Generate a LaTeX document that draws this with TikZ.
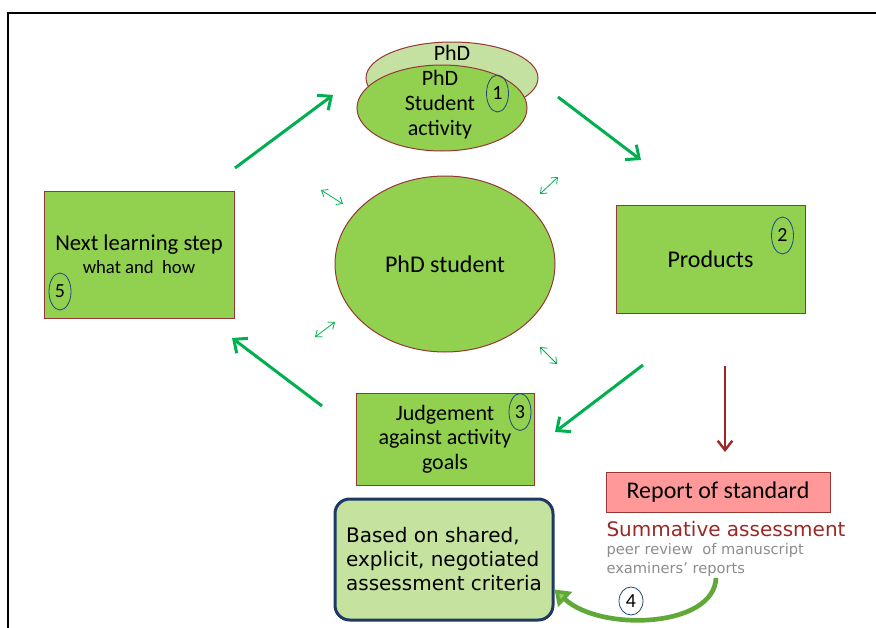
\documentclass[tikz,border=0pt]{standalone}
\usepackage{fontspec}
\setmainfont{Carlito}
\newfontfamily\verdana{DejaVu Sans}
\usetikzlibrary{arrows.meta,shapes.geometric}

\definecolor{boxgreen}{RGB}{146,208,80}
\definecolor{palegreen}{RGB}{196,225,162}
\definecolor{boxborder}{RGB}{149,55,53}
\definecolor{arrowgreen}{RGB}{0,176,80}
\definecolor{darkred}{RGB}{155,40,38}
\definecolor{reportpink}{RGB}{255,153,153}
\definecolor{navyborder}{RGB}{31,56,100}
\definecolor{numblue}{RGB}{31,73,125}
\definecolor{notegray}{RGB}{140,140,140}
\definecolor{criteriagreen}{RGB}{197,227,158}
\definecolor{curvegreen}{RGB}{96,168,56}

\tikzset{every picture/.style={line width=0.75pt}}
\tikzset{
  stepbox/.style={draw=boxborder, fill=boxgreen, inner sep=0.75pt, align=center},
  stepoval/.style={ellipse, draw=boxborder, fill=boxgreen, inner sep=0.75pt, align=center},
  numoval/.style={ellipse, draw=numblue, line width=0.6pt, inner sep=0pt, minimum width=16.5pt, minimum height=27.75pt, font=\fontsize{15}{15}\selectfont},
  bigarrow/.style={draw=arrowgreen, line width=2.25pt, -{Straight Barb[length=8pt,width=14pt]}},
  linkarrow/.style={draw=arrowgreen, line width=0.6pt, {Straight Barb[length=4pt,width=6.5pt]}-{Straight Barb[length=4pt,width=6.5pt]}},
  curvearrow/.style={draw=curvegreen, line width=3.5pt, -{Triangle[length=11pt,width=15pt,fill=boxgreen]}},
}

\begin{document}
\begin{tikzpicture}[x=0.75pt,y=0.75pt,yscale=-1,xscale=1]
\useasboundingbox (0,0) rectangle (876,628);

%Straight Lines [frame]
\draw [line width=1.1pt] (8,628) -- (8,13) -- (876,13) ;

%Shape: Ellipse [activity, back]
\draw (452,78) node [stepoval, fill=palegreen, minimum width=129pt, minimum height=54pt] (actback) {};
% Text Node
\draw (452,53) node [inner sep=0.75pt, font=\fontsize{16.5}{16.5}\selectfont] (phdlabel) {PhD};
%Shape: Ellipse [activity, front]
\draw (442,108) node [stepoval, minimum width=127.5pt, minimum height=64.5pt] (activity) {};
% Text Node
\draw (440,105) node [inner sep=0.75pt, align=center, font=\fontsize{16.5}{18.75}\selectfont] (activitytext) {PhD\\Student\\activity};

%Shape: Ellipse [student]
\draw (445,264) node [stepoval, minimum width=165pt, minimum height=132pt, font=\fontsize{18}{18}\selectfont] (student) {PhD student};

%Shape: Rectangle [next step]
\draw (139,254.5) node [stepbox, minimum width=142.5pt, minimum height=95.25pt, font=\fontsize{17}{17}\selectfont] (nextstep) {Next learning step\\{\fontsize{14}{16}\selectfont what and \ how}};
%Shape: Rectangle [products]
\draw (710.5,259) node [stepbox, minimum width=141.75pt, minimum height=81pt, font=\fontsize{18}{18}\selectfont] (products) {Products};
%Shape: Rectangle [judgement]
\draw (445,439) node [stepbox, minimum width=133.5pt, minimum height=69pt, font=\fontsize{16.5}{18.4}\selectfont] (judgement) {Judgement\\against activity\\goals};
%Shape: Rectangle [report]
\draw (718,492) node [draw=boxborder, fill=reportpink, minimum width=168pt, minimum height=30pt, font=\fontsize{18}{18}\selectfont] (report) {Report of standard};

% Text Node
\draw (605,529) node [anchor=west, inner sep=0.75pt, text=darkred, font=\verdana\fontsize{15}{15}\selectfont] (summative) {Summative assessment};
% Text Node
\draw (605,550) node [anchor=west, inner sep=0.75pt, text=notegray, font=\verdana\fontsize{11}{11}\selectfont] (peerreview) {peer review \ of manuscript};
% Text Node
\draw (605,569) node [anchor=west, inner sep=0.75pt, text=notegray, font=\verdana\fontsize{11}{11}\selectfont] (examiners) {examiners’ reports};

%Rounded Rect [criteria]
\draw (444,559.5) node [draw=navyborder, fill=criteriagreen, line width=2.25pt, rounded corners=11pt, minimum width=163.5pt, minimum height=90.75pt, align=left, font=\verdana\fontsize{15}{18}\selectfont] (criteria) {Based on shared,\\explicit, negotiated\\assessment criteria};

%Shape: Ellipse [numbers]
\draw (497.5,93.5) node [numoval] (num1) {1};
\draw (782.5,235.5) node [numoval] (num2) {2};
\draw (520,412) node [numoval] (num3) {3};
\draw (631,601) node [numoval, minimum width=18pt, minimum height=21pt] (num4) {4};
\draw (60,291.5) node [numoval] (num5) {5};

%Straight Lines [cycle arrows]
\coordinate (cyc1s) at (235,168);
\coordinate (cyc1e) at (333,95);
\coordinate (cyc2s) at (558,97);
\coordinate (cyc2e) at (641,160);
\coordinate (cyc3s) at (643,365);
\coordinate (cyc3e) at (555,432);
\coordinate (cyc4s) at (322,406);
\coordinate (cyc4e) at (232,338);
\draw [bigarrow] (cyc1s) -- (cyc1e) ;
\draw [bigarrow] (cyc2s) -- (cyc2e) ;
\draw [bigarrow] (cyc3s) -- (cyc3e) ;
\draw [bigarrow] (cyc4s) -- (cyc4e) ;

%Straight Lines [to report]
\coordinate (reports) at (725,366);
\coordinate (reporte) at (725,452);
\draw [draw=darkred, line width=1.8pt, -{Straight Barb[length=7pt,width=11pt]}] (reports) -- (reporte) ;

%Straight Lines [small links]
\coordinate (lnk1s) at (321,190);
\coordinate (lnk1e) at (343,204);
\coordinate (lnk2s) at (540,194);
\coordinate (lnk2e) at (558,177);
\coordinate (lnk3s) at (315,337);
\coordinate (lnk3e) at (335,322);
\coordinate (lnk4s) at (540,347);
\coordinate (lnk4e) at (557,364);
\draw [linkarrow] (lnk1s) -- (lnk1e) ;
\draw [linkarrow] (lnk2s) -- (lnk2e) ;
\draw [linkarrow] (lnk3s) -- (lnk3e) ;
\draw [linkarrow] (lnk4s) -- (lnk4e) ;

%Curve Lines [back to criteria]
\coordinate (curves) at (716,578);
\draw [curvearrow] (curves) .. controls (714,628) and (600,632) .. ([yshift=22.5pt]criteria.east) ;

\end{tikzpicture}
\end{document}
